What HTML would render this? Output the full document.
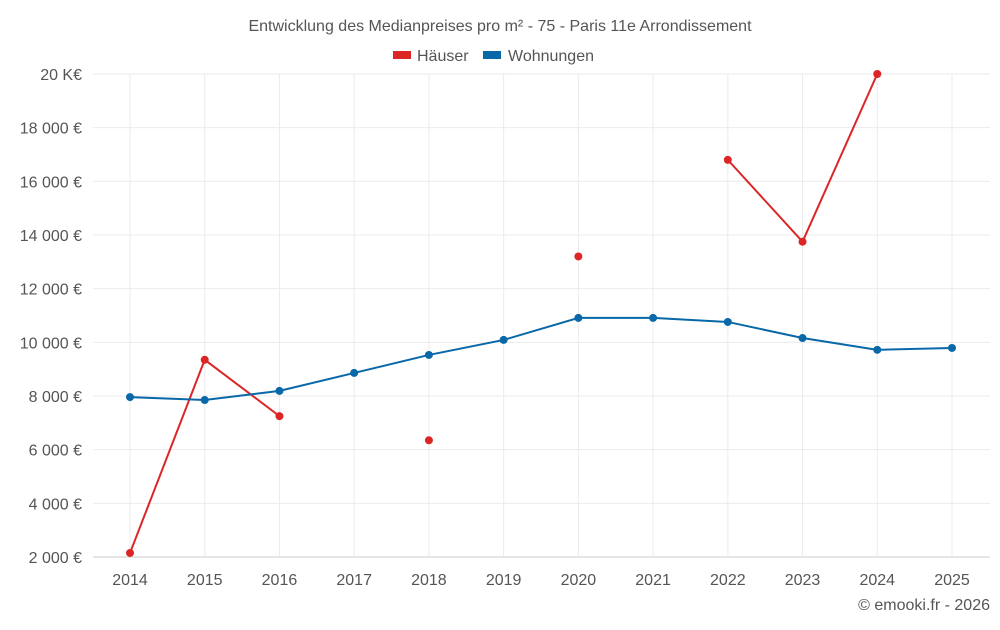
<!DOCTYPE html>
<html><head><meta charset="utf-8"><style>
body{margin:0;background:#fff;font-family:"Liberation Sans",sans-serif;}
svg text{font-family:"Liberation Sans",sans-serif;fill:#555;}
</style></head><body>
<svg id="chart" width="1000" height="625">
<text x="500" y="31" text-anchor="middle" font-size="16">Entwicklung des Medianpreises pro m² - 75 - Paris 11e Arrondissement</text>
<g>
<rect x="393" y="51" width="18" height="8" fill="#dc2626"></rect>
<text x="417" y="61" font-size="16">Häuser</text>
<rect x="483" y="51" width="18" height="8" fill="#0868a8"></rect>
<text x="508" y="61" font-size="16">Wohnungen</text>
</g>
<g id="grid"></g><g id="axes"></g><g id="series"></g>
<text x="990" y="610" text-anchor="end" font-size="16">© emooki.fr - 2026</text>
</svg>
<script>
const years=[2014,2015,2016,2017,2018,2019,2020,2021,2022,2023,2024,2025];
const houses=[2150,9350,7250,null,6350,null,13200,null,16800,13750,20000,null];
const apartments=[7960,7850,8190,8860,9530,10090,10910,10910,10760,10160,9720,9790];
const yTicks=[2000,4000,6000,8000,10000,12000,14000,16000,18000,20000];
const yTickLabels=["2 000 €","4 000 €","6 000 €","8 000 €","10 000 €","12 000 €","14 000 €","16 000 €","18 000 €","20 K€"];
const NS="http://www.w3.org/2000/svg";
const L=93,R=990,T=74,B=557;
function x(i){return 130+i*(952-130)/(years.length-1);}
function y(v){return B-(v-2000)/(20000-2000)*(B-T);}
function mk(tag,attrs,parent){const e=document.createElementNS(NS,tag);for(const k in attrs)e.setAttribute(k,attrs[k]);parent.appendChild(e);return e;}
const grid=document.getElementById('grid'),axes=document.getElementById('axes'),ser=document.getElementById('series');
yTicks.forEach((v,i)=>{
 const ln=mk('line',{x1:L,x2:R,y1:y(v),y2:y(v),stroke:i==0?'#ccc':'#ebebeb'},grid);
 
 
 const t=mk('text',{x:82,y:y(v)+6,'text-anchor':'end','font-size':16},axes);
 t.textContent=yTickLabels[i];
 
 
});
years.forEach((yr,i)=>{
 const ln=mk('line',{x1:x(i),x2:x(i),y1:T,y2:B,stroke:'#ebebeb'},grid);
 
 
 const t=mk('text',{x:x(i),y:585,'text-anchor':'middle','font-size':16},axes);
 t.textContent=yr;
 
 
});
function draw(vals,color,name){
 let seg=[];
 const segs=[];
 vals.forEach((v,i)=>{if(v==null){if(seg.length)segs.push(seg);seg=[];}else seg.push([x(i),y(v)]);});
 if(seg.length)segs.push(seg);
 segs.forEach(s=>{if(s.length>1){
  const p=mk('polyline',{points:s.map(q=>q.join(',')).join(' '),fill:'none',stroke:color,'stroke-width':2},ser);
  
  
 }});
 vals.forEach((v,i)=>{if(v==null)return;
  const c=mk('circle',{cx:x(i),cy:y(v),r:4,fill:color},ser);
  
  
 });
}
draw(houses,'#dc2626','houses');
draw(apartments,'#0868a8','apartments');
</script>
</body></html>
